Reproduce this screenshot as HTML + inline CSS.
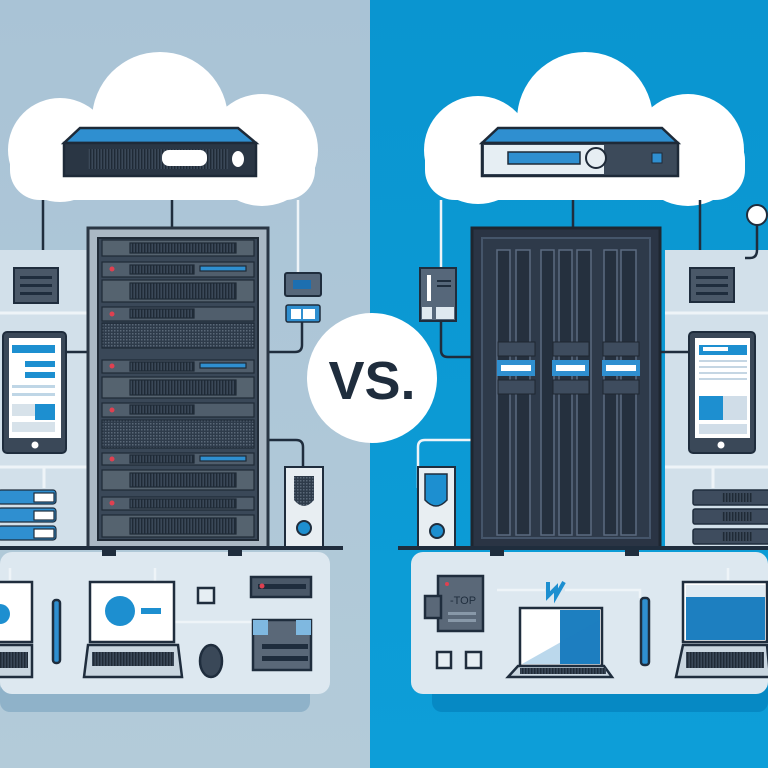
<!DOCTYPE html>
<html><head><meta charset="utf-8"><style>
html,body{margin:0;padding:0;width:768px;height:768px;overflow:hidden}
svg{display:block}
</style></head><body>
<svg width="768" height="768" viewBox="0 0 768 768" xmlns="http://www.w3.org/2000/svg">
<defs>
<linearGradient id="lb" x1="0" y1="0" x2="0" y2="1"><stop offset="0" stop-color="#a9c3d6"/><stop offset="1" stop-color="#b3cbd9"/></linearGradient>
<linearGradient id="rb" x1="0" y1="0" x2="0" y2="1"><stop offset="0" stop-color="#0a95d0"/><stop offset="1" stop-color="#0d9ed8"/></linearGradient>
<pattern id="mesh" width="3" height="3" patternUnits="userSpaceOnUse"><rect width="3" height="3" fill="#2e3b4a"/><rect width="1.5" height="1.5" fill="#5a6878"/></pattern>
<pattern id="vent" width="3" height="10" patternUnits="userSpaceOnUse"><rect width="3" height="10" fill="#3a4858"/><rect width="1.4" height="10" fill="#1f2a36"/></pattern>
</defs>
<rect x="0" y="0" width="370" height="768" fill="url(#lb)"/>
<rect x="370" y="0" width="398" height="768" fill="url(#rb)"/>

<!-- bottom panel shadows -->
<rect x="0" y="680" width="310" height="32" rx="10" fill="#8fb2c9"/>
<rect x="432" y="680" width="336" height="32" rx="10" fill="#0689c4"/>
<!-- bottom panels -->
<rect x="0" y="552" width="330" height="142" rx="12" fill="#dde8f0"/>
<rect x="411" y="552" width="357" height="142" rx="12" fill="#dde8f0"/>

<!-- side panels -->
<rect x="0" y="250" width="90" height="296" fill="#d2e0ea"/>
<line x1="0" y1="313" x2="90" y2="313" stroke="#eef4f8" stroke-width="3"/>
<line x1="0" y1="467" x2="90" y2="467" stroke="#eef4f8" stroke-width="3"/>
<rect x="665" y="250" width="103" height="296" fill="#d2e0ea"/>
<line x1="665" y1="313" x2="768" y2="313" stroke="#eef4f8" stroke-width="3"/>
<line x1="665" y1="467" x2="768" y2="467" stroke="#eef4f8" stroke-width="3"/>
<line x1="713" y1="467" x2="713" y2="488" stroke="#eef4f8" stroke-width="3"/>
<line x1="44" y1="467" x2="44" y2="488" stroke="#eef4f8" stroke-width="3"/>

<!-- clouds -->
<g fill="#fff">
<circle cx="160" cy="120" r="68"/><circle cx="60" cy="150" r="52"/><circle cx="262" cy="150" r="56"/>
<rect x="10" y="130" width="305" height="70" rx="30"/>
<circle cx="585" cy="120" r="68"/><circle cx="478" cy="150" r="54"/><circle cx="688" cy="150" r="56"/>
<rect x="425" y="130" width="320" height="70" rx="30"/>
</g>
<!-- cloud servers left -->
<polygon points="80,128 238,128 256,143 64,143" fill="#2f8fd0" stroke="#1e2a38" stroke-width="2.5"/>
<rect x="64" y="143" width="192" height="33" fill="#2a3644" stroke="#1e2a38" stroke-width="2.5"/>
<rect x="88" y="149" width="140" height="20" fill="url(#vent)"/>
<rect x="162" y="150" width="45" height="16" rx="7" fill="#fff"/>
<ellipse cx="238" cy="159" rx="6" ry="8" fill="#fff"/>
<!-- cloud server right -->
<polygon points="498,128 662,128 678,143 482,143" fill="#2f8fd0" stroke="#1e2a38" stroke-width="2.5"/>
<rect x="482" y="143" width="196" height="33" fill="#3c4a5a" stroke="#1e2a38" stroke-width="2.5"/>
<rect x="484" y="145" width="120" height="29" fill="#e6eef3"/>
<rect x="508" y="152" width="72" height="12" fill="#2f8fd0" stroke="#1e2a38" stroke-width="1.5"/>
<circle cx="596" cy="158" r="10" fill="#e6eef3" stroke="#1e2a38" stroke-width="2"/>
<rect x="652" y="153" width="10" height="10" fill="#2f8fd0" stroke="#1e2a38"/>

<!-- connectors -->
<g stroke="#1f2d3d" stroke-width="2.5" fill="none">
<line x1="43" y1="200" x2="43" y2="250"/>
<line x1="172" y1="200" x2="172" y2="228"/>
<line x1="573" y1="200" x2="573" y2="228"/>
<line x1="700" y1="200" x2="700" y2="250"/>
<path d="M66 352 H100"/>
<path d="M302 322 V345 Q302 352 295 352 H268"/>
<path d="M268 440 H296 Q303 440 303 447 V467"/>
<path d="M441 322 V350 Q441 357 448 357 H472"/>
<path d="M660 352 H690"/>
<path d="M757 225 V250 Q757 258 750 258 H745"/>
</g>
<g stroke="#eef4f8" stroke-width="2.5" fill="none">
<line x1="298" y1="200" x2="298" y2="273"/>
<line x1="441" y1="200" x2="441" y2="268"/>
<path d="M418 488 V447 Q418 440 425 440 H472"/>
<path d="M155 568 V622 H253"/>
<path d="M10 568 V580"/>
<path d="M497 590 H545 M565 590 H640 V598"/>
<path d="M728 568 V580"/>
</g>

<!-- VS -->
<circle cx="372" cy="378" r="65" fill="#fff"/>
<text x="372" y="399" text-anchor="middle" font-family="Liberation Sans, sans-serif" font-weight="bold" font-size="54" fill="#1f2d3d">VS.</text>

<!-- left rack -->
<rect x="88" y="228" width="180" height="320" fill="#aab8c4" stroke="#2a3644" stroke-width="3"/>
<rect x="98" y="238" width="160" height="302" fill="#3a4858" stroke="#1f2a36" stroke-width="2"/>
<g stroke="#1e2a36" stroke-width="1.2">
<rect x="102" y="240" width="152" height="16" fill="#55636f"/><rect x="130" y="243" width="106" height="10" fill="url(#vent)"/>
<rect x="102" y="262" width="152" height="15" fill="#505e6c"/><rect x="130" y="265" width="64" height="9" fill="url(#vent)"/><rect x="200" y="266" width="46" height="5" fill="#2f8fd0"/>
<rect x="102" y="280" width="152" height="22" fill="#55636f"/><rect x="130" y="283" width="106" height="16" fill="url(#vent)"/>
<rect x="102" y="307" width="152" height="14" fill="#505e6c"/><rect x="130" y="309" width="64" height="9" fill="url(#vent)"/>
<rect x="102" y="323" width="152" height="25" fill="url(#mesh)"/>
<rect x="102" y="360" width="152" height="13" fill="#505e6c"/><rect x="130" y="362" width="64" height="9" fill="url(#vent)"/><rect x="200" y="363" width="46" height="5" fill="#2f8fd0"/>
<rect x="102" y="377" width="152" height="21" fill="#55636f"/><rect x="130" y="380" width="106" height="15" fill="url(#vent)"/>
<rect x="102" y="403" width="152" height="14" fill="#505e6c"/><rect x="130" y="405" width="64" height="9" fill="url(#vent)"/>
<rect x="102" y="420" width="152" height="28" fill="url(#mesh)"/>
<rect x="102" y="453" width="152" height="12" fill="#505e6c"/><rect x="130" y="455" width="64" height="8" fill="url(#vent)"/><rect x="200" y="456" width="46" height="5" fill="#2f8fd0"/>
<rect x="102" y="470" width="152" height="20" fill="#55636f"/><rect x="130" y="473" width="106" height="14" fill="url(#vent)"/>
<rect x="102" y="497" width="152" height="13" fill="#505e6c"/><rect x="130" y="499" width="106" height="9" fill="url(#vent)"/>
<rect x="102" y="515" width="152" height="22" fill="#55636f"/><rect x="130" y="518" width="106" height="16" fill="url(#vent)"/>
</g>
<g fill="#e04050"><circle cx="112" cy="269" r="2.5"/><circle cx="112" cy="314" r="2.5"/><circle cx="112" cy="366" r="2.5"/><circle cx="112" cy="410" r="2.5"/><circle cx="112" cy="459" r="2.5"/><circle cx="112" cy="503" r="2.5"/></g>

<!-- right rack -->
<rect x="472" y="228" width="188" height="320" fill="#2a3444" stroke="#1e2630" stroke-width="3"/>
<rect x="482" y="238" width="168" height="300" fill="#2e3a4a" stroke="#45556a" stroke-width="2"/>
<g fill="#25303e" stroke="#5b6b80" stroke-width="1.5">
<rect x="497" y="250" width="13" height="285"/><rect x="516" y="250" width="14" height="285"/>
<rect x="541" y="250" width="13" height="285"/><rect x="559" y="250" width="13" height="285"/><rect x="577" y="250" width="14" height="285"/>
<rect x="604" y="250" width="13" height="285"/><rect x="621" y="250" width="15" height="285"/>
</g>
<g fill="#3e4c5e" stroke="#1e2630"><rect x="498" y="342" width="37" height="14"/><rect x="553" y="342" width="36" height="14"/><rect x="603" y="342" width="36" height="14"/>
<rect x="498" y="380" width="37" height="14"/><rect x="553" y="380" width="36" height="14"/><rect x="603" y="380" width="36" height="14"/></g>
<g fill="#2f8fd0"><rect x="497" y="360" width="38" height="16"/><rect x="552" y="360" width="37" height="16"/><rect x="602" y="360" width="38" height="16"/></g>
<g fill="#fff"><rect x="501" y="365" width="30" height="6"/><rect x="556" y="365" width="29" height="6"/><rect x="606" y="365" width="30" height="6"/></g>

<!-- shelves -->
<rect x="0" y="546" width="343" height="4" fill="#1f2d3d"/>
<rect x="398" y="546" width="370" height="4" fill="#1f2d3d"/>
<g fill="#1f2d3d"><rect x="102" y="548" width="14" height="8"/><rect x="228" y="548" width="14" height="8"/><rect x="490" y="548" width="14" height="8"/><rect x="625" y="548" width="14" height="8"/></g>

<!-- left side devices -->
<rect x="14" y="268" width="44" height="35" fill="#4a5868" stroke="#1f2d3d" stroke-width="2"/>
<g fill="#1f2d3d"><rect x="20" y="276" width="32" height="3"/><rect x="20" y="284" width="32" height="3"/><rect x="20" y="292" width="32" height="3"/></g>
<rect x="3" y="332" width="63" height="121" rx="4" fill="#3a4858" stroke="#1f2d3d" stroke-width="2"/>
<rect x="9" y="338" width="52" height="100" fill="#fff"/>
<rect x="12" y="345" width="43" height="8" fill="#1d8fd0"/><rect x="25" y="361" width="30" height="6" fill="#1d8fd0"/><rect x="25" y="372" width="30" height="6" fill="#1d8fd0"/>
<rect x="12" y="385" width="43" height="3" fill="#bfd6e6"/><rect x="12" y="393" width="43" height="3" fill="#bfd6e6"/>
<rect x="12" y="404" width="43" height="12" fill="#d7e2ea"/><rect x="35" y="404" width="20" height="16" fill="#1d8fd0"/>
<rect x="12" y="422" width="43" height="10" fill="#d7e2ea"/>
<circle cx="35" cy="445" r="3.5" fill="#fff"/>
<g stroke="#1f2d3d" stroke-width="1.2">
<rect x="-2" y="490" width="58" height="14" rx="3" fill="#2f8fd0"/><rect x="34" y="493" width="20" height="9" fill="#fff"/>
<rect x="-2" y="508" width="58" height="14" rx="3" fill="#2f8fd0"/><rect x="34" y="511" width="20" height="9" fill="#fff"/>
<rect x="-2" y="526" width="58" height="14" rx="3" fill="#2f8fd0"/><rect x="34" y="529" width="20" height="9" fill="#fff"/>
</g>
<rect x="285" y="273" width="36" height="23" rx="2" fill="#56677a" stroke="#1f2d3d" stroke-width="2"/><rect x="293" y="280" width="18" height="9" fill="#1d6fb0"/>
<rect x="286" y="305" width="34" height="17" rx="2" fill="#2f8fd0" stroke="#1f2d3d" stroke-width="1.5"/><rect x="291" y="309" width="10" height="10" fill="#fff"/><rect x="303" y="309" width="12" height="10" fill="#fff"/>
<rect x="285" y="467" width="38" height="80" fill="#e8eef2" stroke="#1f2d3d" stroke-width="2"/>
<path d="M294 476 H314 V500 Q304 512 294 500 Z" fill="url(#mesh)"/>
<circle cx="304" cy="528" r="7" fill="#1d8fd0" stroke="#1f2d3d" stroke-width="2"/>

<!-- right side devices -->
<rect x="420" y="268" width="36" height="53" fill="#56677a" stroke="#1f2d3d" stroke-width="2"/>
<rect x="427" y="275" width="4" height="26" fill="#fff"/><rect x="437" y="280" width="14" height="2" fill="#1f2d3d"/><rect x="437" y="285" width="14" height="2" fill="#1f2d3d"/>
<rect x="422" y="307" width="10" height="12" fill="#dfe9f0"/><rect x="436" y="307" width="18" height="12" fill="#dfe9f0"/>
<rect x="418" y="467" width="37" height="80" fill="#e8eef2" stroke="#1f2d3d" stroke-width="2"/>
<path d="M425 474 H447 V500 Q436 512 425 500 Z" fill="#1d8fd0" stroke="#1f2d3d" stroke-width="1.5"/>
<circle cx="437" cy="531" r="7" fill="#1d8fd0" stroke="#1f2d3d" stroke-width="2"/>
<rect x="690" y="268" width="44" height="34" fill="#4a5868" stroke="#1f2d3d" stroke-width="2"/>
<g fill="#1f2d3d"><rect x="696" y="276" width="32" height="3"/><rect x="696" y="284" width="32" height="3"/><rect x="696" y="292" width="32" height="3"/></g>
<rect x="689" y="332" width="66" height="121" rx="4" fill="#3a4858" stroke="#1f2d3d" stroke-width="2"/>
<rect x="695" y="338" width="55" height="100" fill="#fff"/>
<rect x="699" y="345" width="48" height="10" fill="#1d8fd0"/><rect x="703" y="347" width="25" height="4" fill="#fff"/>
<g fill="#c5d6e3"><rect x="699" y="360" width="48" height="2"/><rect x="699" y="366" width="48" height="2"/><rect x="699" y="372" width="48" height="2"/><rect x="699" y="378" width="48" height="2"/></g>
<rect x="699" y="396" width="24" height="24" fill="#1d8fd0"/><rect x="723" y="396" width="24" height="24" fill="#d0dde8"/><rect x="699" y="424" width="48" height="10" fill="#d0dde8"/>
<circle cx="721" cy="445" r="3.5" fill="#fff"/>
<g fill="#3e4c5e" stroke="#1f2d3d" stroke-width="1.5">
<rect x="693" y="490" width="80" height="15" rx="2"/><rect x="693" y="509" width="80" height="15" rx="2"/><rect x="693" y="529" width="80" height="15" rx="2"/></g>
<g fill="url(#vent)"><rect x="722" y="493" width="30" height="9"/><rect x="722" y="512" width="30" height="9"/><rect x="722" y="532" width="30" height="9"/></g>
<ellipse cx="757" cy="215" rx="10" ry="10" fill="#fff" stroke="#1f2d3d" stroke-width="2"/>

<!-- bottom left items -->
<g stroke="#1f2d3d" stroke-width="2.5">
<rect x="-5" y="582" width="37" height="60" fill="#fff"/>
<rect x="-5" y="645" width="37" height="32" fill="#c9d6e0"/>
<rect x="90" y="582" width="84" height="60" fill="#fff"/>
<path d="M88 645 H178 L182 677 H84 Z" fill="#c9d6e0"/>
<rect x="53" y="600" width="7" height="63" rx="3" fill="#2f8fd0"/>
<rect x="198" y="588" width="16" height="15" fill="#e6eef3"/>
<rect x="251" y="577" width="60" height="20" fill="#4a5868"/>
<rect x="253" y="620" width="58" height="50" fill="#5a6878"/>
<ellipse cx="211" cy="661" rx="11" ry="16" fill="#3a4858"/>
</g>
<circle cx="0" cy="614" r="10" fill="#1d8fd0"/>
<circle cx="120" cy="611" r="15" fill="#1d8fd0"/><rect x="141" y="608" width="20" height="6" fill="#1d8fd0"/>
<rect x="92" y="652" width="82" height="14" fill="url(#vent)"/>
<rect x="0" y="652" width="28" height="16" fill="url(#vent)"/>
<rect x="258" y="584" width="48" height="5" fill="#1f2d3d"/><circle cx="262" cy="586" r="2.5" fill="#e04050"/>
<rect x="253" y="620" width="15" height="15" fill="#7fb8e0"/><rect x="296" y="620" width="15" height="15" fill="#7fb8e0"/>
<rect x="262" y="644" width="46" height="5" fill="#1f2d3d"/><rect x="262" y="656" width="46" height="5" fill="#1f2d3d"/>

<!-- bottom right items -->
<g stroke="#1f2d3d" stroke-width="2.5">
<rect x="438" y="576" width="45" height="55" fill="#5a6878"/>
<rect x="425" y="596" width="16" height="22" fill="#5a6878"/>
<rect x="520" y="608" width="82" height="58" fill="#fff"/>
<path d="M518 666 H604 L612 677 H508 Z" fill="#c9d6e0"/>
<rect x="641" y="598" width="8" height="67" rx="3" fill="#2f8fd0"/>
<rect x="683" y="582" width="84" height="60" fill="#fff"/>
<path d="M683 645 H767 L770 677 H676 Z" fill="#c9d6e0"/>
<rect x="437" y="652" width="14" height="16" fill="#e6eef3"/><rect x="466" y="652" width="15" height="16" fill="#e6eef3"/>
</g>
<text x="450" y="604" font-family="Liberation Sans, sans-serif" font-size="11" fill="#1f2d3d">-TOP</text>
<rect x="448" y="612" width="28" height="3" fill="#8898a8"/><rect x="448" y="619" width="28" height="3" fill="#8898a8"/>
<circle cx="447" cy="584" r="2" fill="#e04050"/>
<rect x="560" y="610" width="40" height="54" fill="#1d7fc0"/><polygon points="522,664 600,620 600,664" fill="#1d7fc0" opacity="0.3"/>
<rect x="686" y="585" width="79" height="55" fill="#1d7fc0"/><rect x="686" y="585" width="79" height="12" fill="#dfeaf2"/>
<rect x="520" y="668" width="86" height="6" fill="url(#vent)"/>
<rect x="686" y="652" width="78" height="16" fill="url(#vent)"/>
<path d="M548 582 L548 596 L556 588 L556 596 L564 582" stroke="#1d8fd0" stroke-width="4" fill="none"/>
<circle cx="449" cy="660" r="0" />
</svg>
</body></html>
